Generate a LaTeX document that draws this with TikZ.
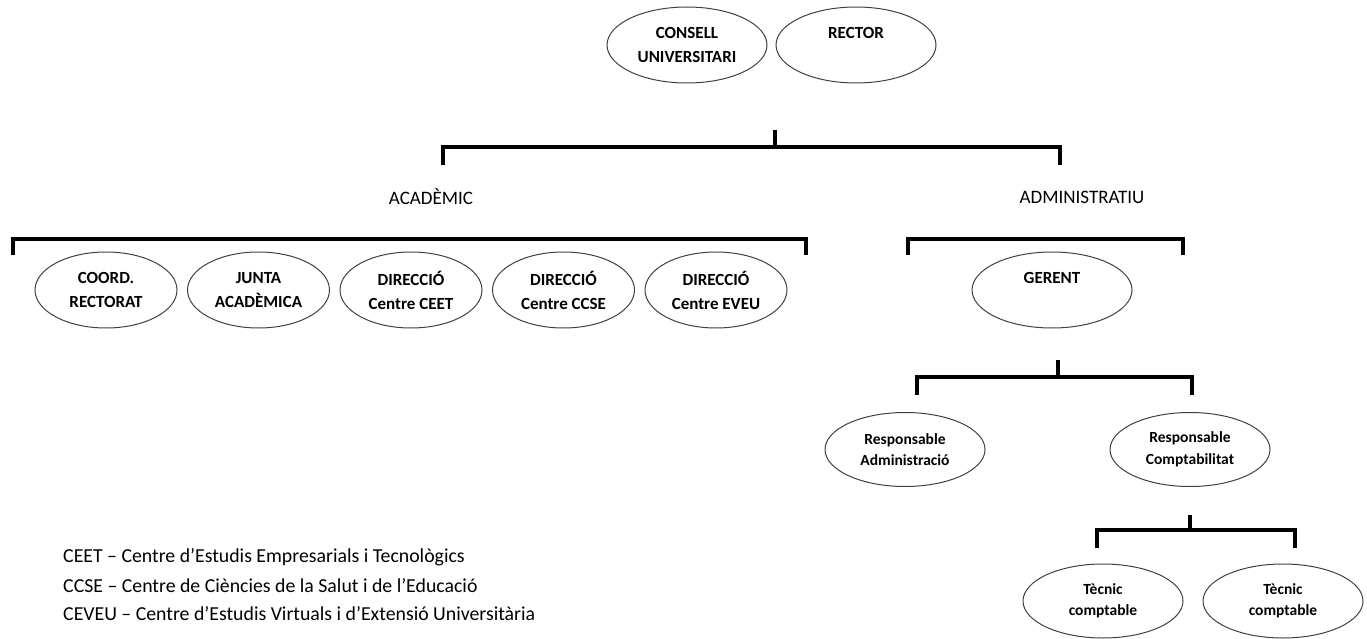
\documentclass[tikz,border=0pt]{standalone}
\usepackage{fontspec}
\setmainfont{Carlito}
\usetikzlibrary{positioning}
\usetikzlibrary{shapes.geometric}

\begin{document}
\begin{tikzpicture}[x=1pt, y=-1pt, node distance=9.5pt,
    unit/.style={ellipse, draw=black!75, line width=1pt, inner sep=0pt, minimum width=160pt, minimum height=76pt, align=center, font=\bfseries\fontsize{17}{24}\selectfont},
    dept/.style={unit, minimum width=142pt},
    post/.style={unit, minimum height=74pt, font=\bfseries\fontsize{15.5}{21.5}\selectfont},
    area/.style={font=\fontsize{19}{23}\selectfont},
    note/.style={anchor=west, inner sep=0pt, font=\fontsize{19.8}{22}\selectfont},
    bracket/.style={draw, line width=3.5pt}]
    \useasboundingbox (0,0) rectangle (1367,639);

    \node[unit] (consell) at (687,45) {CONSELL\\UNIVERSITARI};
    \node[unit, right=8pt of consell] (rector) {RECTOR\\\phantom{X}};

    \node[area] (academic) at (431,197) {ACADÈMIC};
    \node[area] (administratiu) at (1082,197) {ADMINISTRATIU};

    \node[dept] (coord) at (106,290) {COORD.\\RECTORAT};
    \node[dept, right=of coord] (junta) {JUNTA\\ACADÈMICA};
    \node[dept, right=of junta] (ceet) {DIRECCIÓ\\Centre CEET};
    \node[dept, right=of ceet] (ccse) {DIRECCIÓ\\Centre CCSE};
    \node[dept, right=of ccse] (eveu) {DIRECCIÓ\\Centre EVEU};

    \node[unit] (gerent) at (1052,290) {GERENT\\\phantom{X}};
    \node[post] (respadm) at (905,449.5) {Responsable\\Administració};
    \node[post] (respcomp) at (1190,449.5) {Responsable\\Comptabilitat};
    \node[post] (tecnic1) at (1103,601) {Tècnic\\comptable};
    \node[post, right=19pt of tecnic1] (tecnic2) {Tècnic\\comptable};

    \node[note] (leg1) at (63,557) {CEET – Centre d’Estudis Empresarials i Tecnològics};
    \node[note] (leg2) at (63,585.5) {CCSE – Centre de Ciències de la Salut i de l’Educació};
    \node[note] (leg3) at (63,614) {CEVEU – Centre d’Estudis Virtuals i d’Extensió Universitària};

    \coordinate (top) at (775,130);
    \coordinate (topl) at (443,165);
    \coordinate (topr) at (1060,165);
    \coordinate (acadl) at (13,255);
    \coordinate (acadr) at (806,255);
    \coordinate (adminl) at (908,255);
    \coordinate (adminr) at (1183,255);
    \coordinate (ger) at (1058,360);
    \coordinate (gerl) at (917,395);
    \coordinate (gerr) at (1192,395);
    \coordinate[below=28pt of respcomp.south] (comp);
    \coordinate (compl) at (1097,548);
    \coordinate (compr) at (1295,548);

    \draw[bracket] (top) -- ++(0,17) -| (topl) (top) ++(0,17) -| (topr);
    \draw[bracket] (acadl) -- ++(0,-16) -| (acadr);
    \draw[bracket] (adminl) -- ++(0,-16) -| (adminr);
    \draw[bracket] (ger) -- ++(0,17) -| (gerl) (ger) ++(0,17) -| (gerr);
    \draw[bracket] (comp) -- ++(0,15) -| (compl) (comp) ++(0,15) -| (compr);
\end{tikzpicture}
\end{document}
